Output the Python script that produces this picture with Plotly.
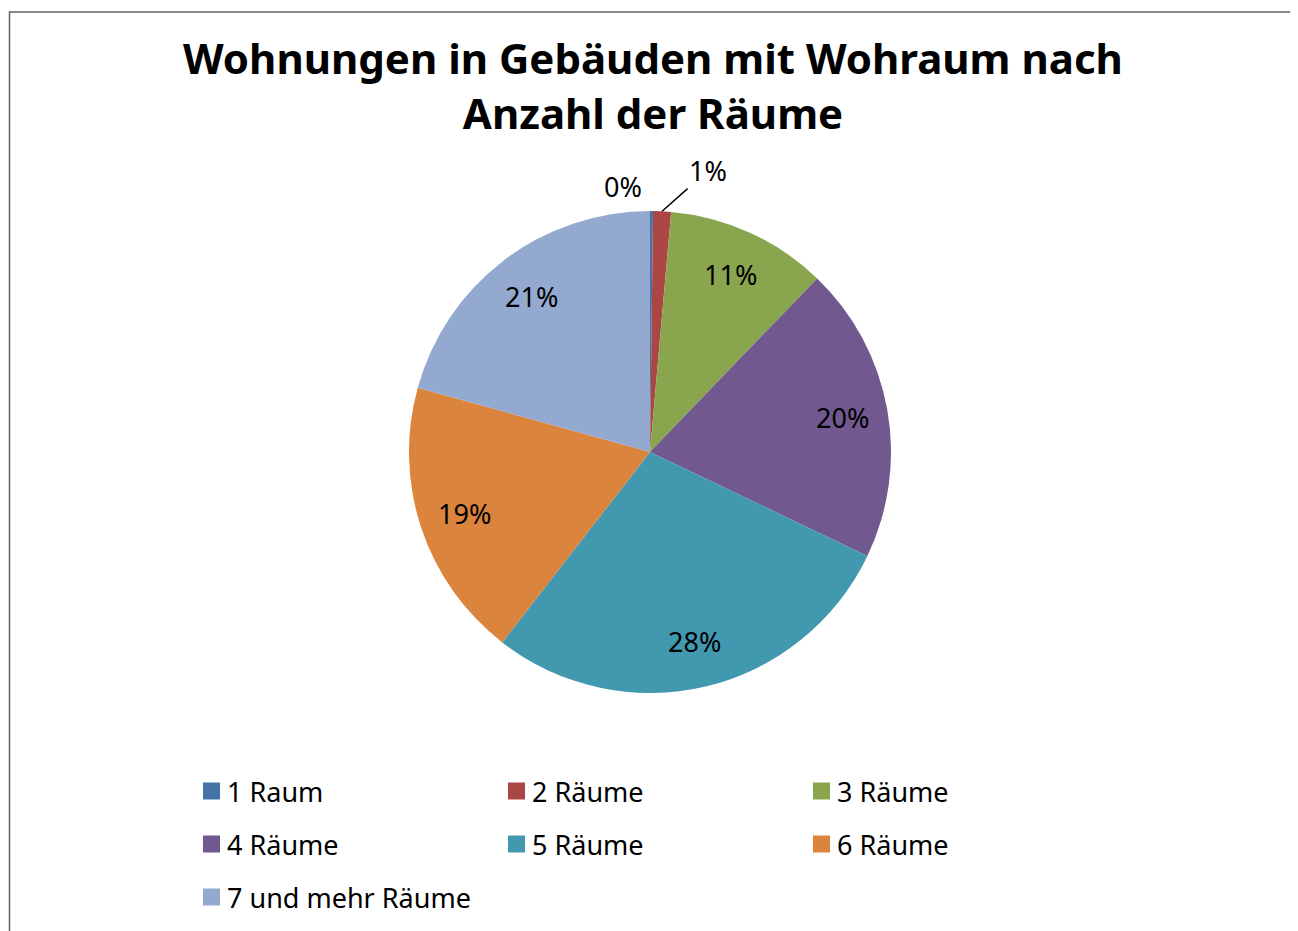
import math
import plotly.graph_objects as go

categories = ["1 Raum", "2 Räume", "3 Räume", "4 Räume", "5 Räume", "6 Räume", "7 und mehr Räume"]
shares = [0.2, 1.2, 10.8, 19.9, 28.4, 18.8, 20.7]
colors = ["#4572A7", "#AA4643", "#89A54E", "#71588F", "#4198AF", "#DB843D", "#93A9CF"]
outside = [True, True, False, False, False, False, False]

# page is shown with an 8px body margin, so the figure is sized to fit the window
W, H = 1290, 923
FONT = "Noto Sans"

# pie geometry in figure pixels
CX, CY, R = 642, 444, 241

fig = go.Figure(go.Pie(
    labels=categories,
    values=shares,
    sort=False,
    direction="clockwise",
    rotation=0,
    marker=dict(colors=colors, line=dict(width=0)),
    textposition="none",
    domain=dict(x=[(CX - R) / W, (CX + R) / W], y=[1 - (CY + R) / H, 1 - (CY - R) / H]),
    hoverinfo="label+percent",
    showlegend=False,
))

annotations = []
total = sum(shares)
cum = 0.0
for i, v in enumerate(shares):
    theta = 2 * math.pi * (cum + v / 2) / total
    cum += v
    txt = f"{round(100 * v / total)}%"
    s, c = math.sin(theta), math.cos(theta)
    if not outside[i]:
        px, py = CX + 0.81 * R * s, CY - 0.81 * R * c
        annotations.append(dict(x=px / W, y=1 - py / H, xref="paper", yref="paper",
                                text=txt, showarrow=False, xanchor="center", yanchor="middle",
                                font=dict(family=FONT, size=27, color="black")))
    elif i == 0:
        px, py = CX + 1.1 * R * s, CY - 1.1 * R * c
        annotations.append(dict(x=px / W, y=1 - py / H, xref="paper", yref="paper",
                                text=txt, showarrow=False, xanchor="right", yanchor="middle",
                                xshift=-8,
                                font=dict(family=FONT, size=27, color="black")))
    else:
        px, py = CX + R * s, CY - R * c
        annotations.append(dict(x=px / W, y=1 - py / H, xref="paper", yref="paper",
                                text=txt, showarrow=True, arrowhead=0, arrowwidth=1.5,
                                arrowcolor="black", ax=46, ay=-41, standoff=0,
                                font=dict(family=FONT, size=27, color="black")))

# legend: 3 columns, row-major
LEG_X0, LEG_DX, LEG_Y0, LEG_DY, SQ = 195, 305, 783, 53, 17
shapes = []
for i, (name, col) in enumerate(zip(categories, colors)):
    r_, c_ = divmod(i, 3)
    x0 = LEG_X0 + c_ * LEG_DX
    yc = LEG_Y0 + r_ * LEG_DY
    shapes.append(dict(type="rect", xref="paper", yref="paper",
                       x0=x0 / W, x1=(x0 + SQ) / W,
                       y0=1 - (yc + SQ / 2) / H, y1=1 - (yc - SQ / 2) / H,
                       fillcolor=col, line=dict(width=0)))
    annotations.append(dict(x=(x0 + SQ + 5) / W, y=1 - yc / H, xref="paper", yref="paper",
                            text=name, showarrow=False, xanchor="left", yanchor="middle",
                            font=dict(family=FONT, size=27, color="black")))

# chart frame
shapes.append(dict(type="rect", xref="paper", yref="paper",
                   x0=1.5 / W, x1=1285.5 / W, y0=-0.05, y1=1 - 4 / H,
                   line=dict(color="#606060", width=1.5), fillcolor="rgba(0,0,0,0)"))

fig.update_layout(
    width=W, height=H,
    margin=dict(l=0, r=0, t=0, b=0),
    paper_bgcolor="white",
    font=dict(family=FONT, color="black"),
    title=dict(
        text="<b>Wohnungen in Gebäuden mit Wohraum nach<br>Anzahl der Räume</b>",
        x=0.5, xanchor="center", y=1 - 66 / H, yanchor="top",
        font=dict(family=FONT, size=42, color="black"),
    ),
    annotations=annotations,
    shapes=shapes,
)

fig.write_html("out.html")
